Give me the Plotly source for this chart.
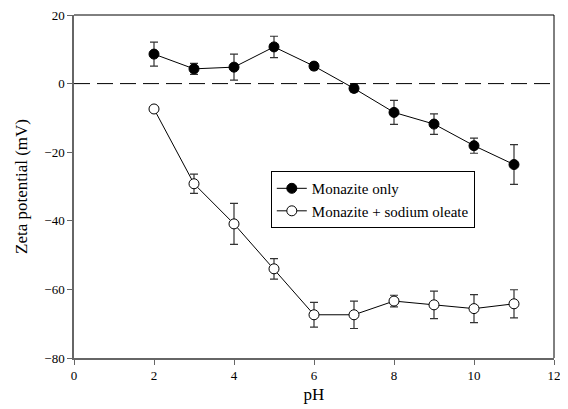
import plotly.graph_objects as go

ph = [2, 3, 4, 5, 6, 7, 8, 9, 10, 11]
monazite_only = [8.6, 4.3, 4.8, 10.7, 5.1, -1.4, -8.4, -11.8, -18.1, -23.6]
monazite_only_err = [3.5, 1.6, 3.8, 3.1, 1.0, 1.0, 3.5, 3.0, 2.2, 5.8]
monazite_oleate = [-7.4, -29.2, -40.9, -54.0, -67.4, -67.4, -63.4, -64.5, -65.6, -64.2]
monazite_oleate_err = [0.8, 2.8, 6.0, 3.0, 3.6, 4.0, 1.7, 4.0, 4.1, 4.1]

FONT = "Liberation Serif"
AX = "#666666"

fig = go.Figure()
fig.add_trace(go.Scatter(
    x=ph, y=monazite_only, name="Monazite only", mode="lines+markers",
    line=dict(color="black", width=1),
    marker=dict(symbol="circle", size=10, color="black", line=dict(color="black", width=1)),
    error_y=dict(type="data", array=monazite_only_err, color="#333333", thickness=1.2, width=4),
))
fig.add_trace(go.Scatter(
    x=ph, y=monazite_oleate, name="Monazite + sodium oleate", mode="lines+markers",
    line=dict(color="black", width=1),
    marker=dict(symbol="circle", size=10, color="white", line=dict(color="black", width=1)),
    error_y=dict(type="data", array=monazite_oleate_err, color="#333333", thickness=1.2, width=4),
))

fig.add_shape(type="line", xref="paper", x0=0, x1=1, yref="y", y0=0, y1=0,
              line=dict(color="black", width=1, dash="16px,7px"), layer="below")
fig.add_shape(type="line", xref="paper", yref="paper", x0=0, x1=1, y0=1, y1=1,
              line=dict(color="black", width=1))
fig.add_shape(type="line", xref="paper", yref="paper", x0=1, x1=1, y0=0, y1=1,
              line=dict(color="black", width=1))

fig.update_layout(
    width=560, height=401,
    margin=dict(l=66, r=14, t=7, b=51, autoexpand=False),
    paper_bgcolor="white", plot_bgcolor="white",
    font=dict(family=FONT, color="black", size=13),
    showlegend=True,
    legend=dict(x=0.41, y=0.545, xanchor="left", yanchor="top",
                bgcolor="white", bordercolor="black", borderwidth=1,
                font=dict(family=FONT, size=15), tracegroupgap=0,
                itemwidth=30),
    xaxis=dict(range=[0, 12], tickvals=[0, 2, 4, 6, 8, 10, 12], showgrid=False, zeroline=False,
               automargin=False, ticklabeloverflow="allow",
               showline=True, linecolor=AX, linewidth=1.5, ticks="outside", tickcolor=AX,
               ticklen=5, tickwidth=1, tickfont=dict(family=FONT, size=13),
               title=dict(text="pH", font=dict(family=FONT, size=17), standoff=6)),
    yaxis=dict(range=[-80, 20], tickvals=[-80, -60, -40, -20, 0, 20], showgrid=False, zeroline=False,
               automargin=False, ticklabeloverflow="allow",
               showline=True, linecolor=AX, linewidth=1.5, ticks="outside", tickcolor=AX,
               ticklen=5, tickwidth=1, tickfont=dict(family=FONT, size=13),
               title=dict(text="Zeta potential (mV)", font=dict(family=FONT, size=17), standoff=12)),
)

fig.write_html("out.html")
